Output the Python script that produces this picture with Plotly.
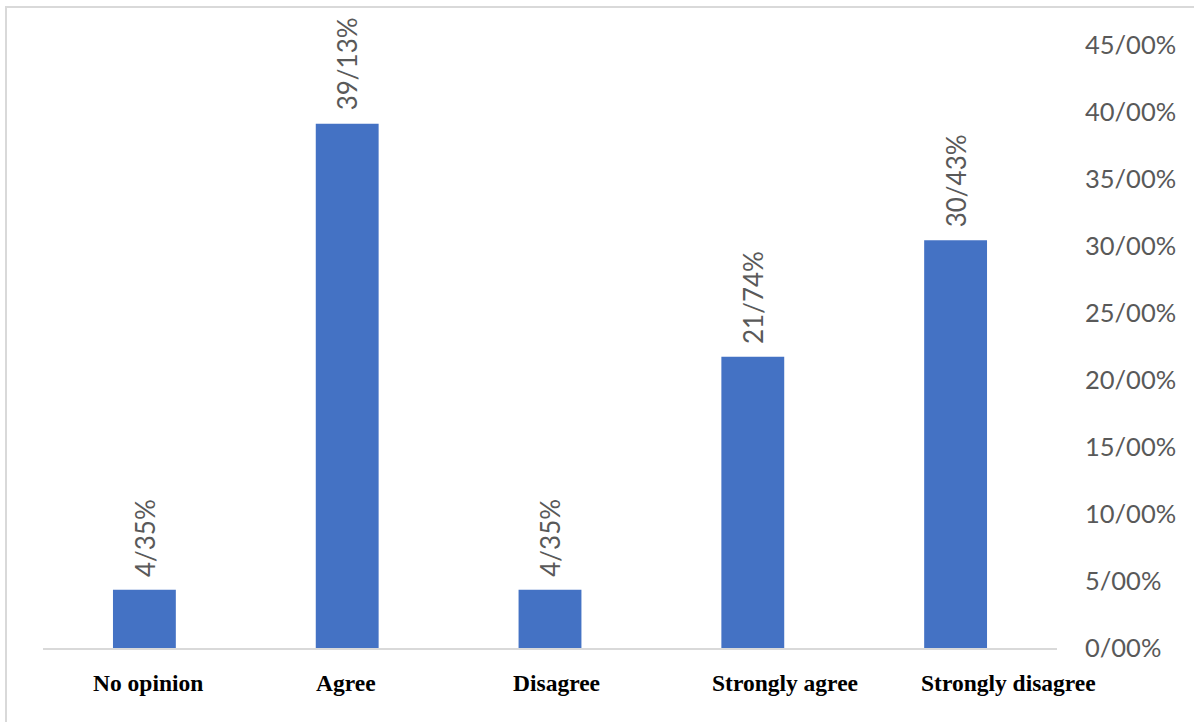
import plotly.graph_objects as go

categories = ["No opinion", "Agree", "Disagree", "Strongly agree", "Strongly disagree"]
values = [4.35, 39.13, 4.35, 21.74, 30.43]
value_labels = ["4/35%", "39/13%", "4/35%", "21/74%", "30/43%"]
tick_vals = [0, 5, 10, 15, 20, 25, 30, 35, 40, 45]
tick_text = ["0/00%", "5/00%", "10/00%", "15/00%", "20/00%", "25/00%",
             "30/00%", "35/00%", "40/00%", "45/00%"]

# style: horizontal nudges of the category captions (px), as in the original
label_shift = [4, -1, 6, 32, 53]

GRAY = "#595959"
fig = go.Figure()
fig.add_trace(go.Bar(x=categories, y=values, marker_color="#4472C4",
                     marker_line_width=0, hoverinfo="skip"))

for c, v, t in zip(categories, values, value_labels):
    fig.add_annotation(x=c, y=v, xref="x", yref="y", text=t, showarrow=False,
                       textangle=-90, xanchor="center", yanchor="bottom", yshift=11,
                       font=dict(family="Lato", size=26, color=GRAY))

for c, s in zip(categories, label_shift):
    fig.add_annotation(x=c, y=0, xref="x", yref="y", text="<b>%s</b>" % c,
                       showarrow=False, xanchor="center", yanchor="middle",
                       xshift=s, yshift=-35,
                       font=dict(family="Liberation Serif", size=23.5, color="black"))

fig.add_shape(type="rect", xref="paper", yref="paper",
              x0=-0.0365, x1=1.3, y0=-0.3, y1=1.063,
              line=dict(color="#d9d9d9", width=2), layer="below")

fig.update_layout(
    width=1194, height=722,
    margin=dict(l=43, r=137, t=45, b=74, autoexpand=False),
    paper_bgcolor="white", plot_bgcolor="white",
    bargap=0.69, showlegend=False,
    xaxis=dict(showticklabels=False, showline=True, linecolor="#d9d9d9",
               linewidth=2, showgrid=False, zeroline=False, ticks="",
               automargin=False, range=[-0.5, len(categories) - 0.5]),
    yaxis=dict(side="right", range=[0, 45], tickvals=tick_vals, ticktext=tick_text,
               showgrid=False, zeroline=False, showline=False, ticks="",
               ticklabelstandoff=27, automargin=False,
               tickfont=dict(family="Lato", size=25.5, color=GRAY)),
)

fig.write_html("out.html")
